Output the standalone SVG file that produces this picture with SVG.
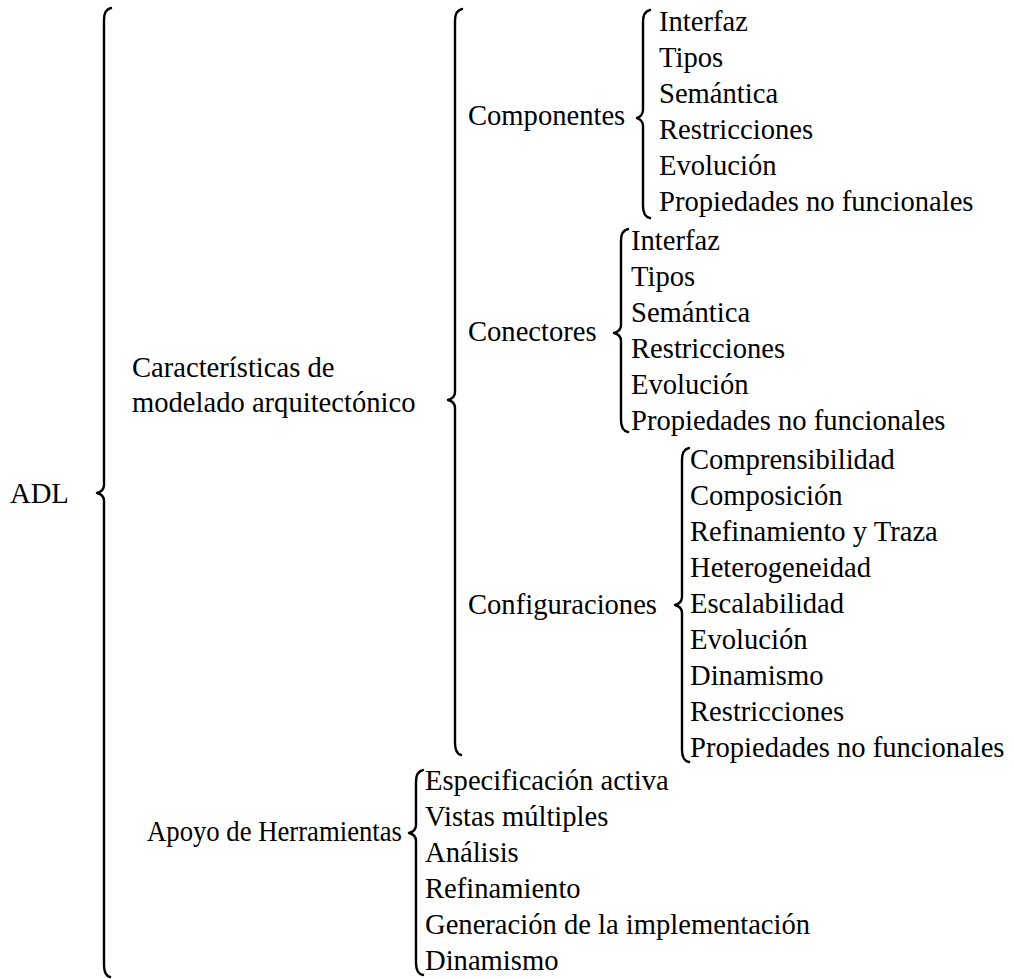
<svg xmlns="http://www.w3.org/2000/svg" width="1014" height="979" viewBox="0 0 1014 979">
<style>
.br{fill:none;stroke:#000;stroke-width:2.4;stroke-linecap:round;stroke-linejoin:round}
</style>
<rect width="1014" height="979" fill="#fff"/>
<g id="connectors">
<path class="br" d="M111,8 C106,9 104,13 104,20 L104,485 C104,489 101,492 97,493 C101,494 104,497 104,501 L104,965 C104,972 106,976 110,977"/>
<path class="br" d="M462,9 C457,10 455,14 455,21 L455,392 C455,396 452,399 448,400 C452,401 455,404 455,408 L455,743 C455,750 457,754 461,755"/>
<path class="br" d="M650,10 C645,11 643,15 643,22 L643,110 C643,114 640,117 637,118 C640,119 643,122 643,126 L643,206 C643,213 645,217 650,218"/>
<path class="br" d="M628,229 C623,230 621,234 621,241 L621,325 C621,329 618,332 614,333 C618,334 621,337 621,341 L621,420 C621,427 623,431 628,432"/>
<path class="br" d="M689,448 C684,449 682,453 682,460 L682,597 C682,601 679,604 675,605 C679,606 682,609 682,613 L682,750 C682,757 684,761 689,762"/>
<path class="br" d="M423,770 C418,771 416,775 416,782 L416,825 C416,829 413,832 409,833 C413,834 416,837 416,841 L416,963 C416,970 418,974 423,975"/>
</g>
<g font-family="Liberation Serif, serif" font-size="28.6" fill="#000">
<g id="n-adl"><text x="10" y="503">ADL</text></g>
<g id="n-caracteristicas"><text x="132" y="377">Características de</text><text x="132" y="412">modelado arquitectónico</text></g>
<g id="n-apoyo"><text x="147" y="841" textLength="255" lengthAdjust="spacingAndGlyphs">Apoyo de Herramientas</text></g>
<g id="n-componentes"><text x="468" y="125">Componentes</text></g>
<g id="n-conectores"><text x="468" y="341">Conectores</text></g>
<g id="n-configuraciones"><text x="468" y="614">Configuraciones</text></g>
<g id="n-comp-items">
<text x="659" y="31">Interfaz</text>
<text x="659" y="67">Tipos</text>
<text x="659" y="103">Semántica</text>
<text x="659" y="139">Restricciones</text>
<text x="659" y="175">Evolución</text>
<text x="659" y="211">Propiedades no funcionales</text>
</g>
<g id="n-con-items">
<text x="631" y="250">Interfaz</text>
<text x="631" y="286">Tipos</text>
<text x="631" y="322">Semántica</text>
<text x="631" y="358">Restricciones</text>
<text x="631" y="394">Evolución</text>
<text x="631" y="430">Propiedades no funcionales</text>
</g>
<g id="n-conf-items">
<text x="690" y="469">Comprensibilidad</text>
<text x="690" y="505">Composición</text>
<text x="690" y="541">Refinamiento y Traza</text>
<text x="690" y="577">Heterogeneidad</text>
<text x="690" y="613">Escalabilidad</text>
<text x="690" y="649">Evolución</text>
<text x="690" y="685">Dinamismo</text>
<text x="690" y="721">Restricciones</text>
<text x="690" y="757">Propiedades no funcionales</text>
</g>
<g id="n-apoyo-items">
<text x="425" y="790">Especificación activa</text>
<text x="425" y="826">Vistas múltiples</text>
<text x="425" y="862">Análisis</text>
<text x="425" y="898">Refinamiento</text>
<text x="425" y="934">Generación de la implementación</text>
<text x="425" y="970">Dinamismo</text>
</g>
</g>
</svg>
